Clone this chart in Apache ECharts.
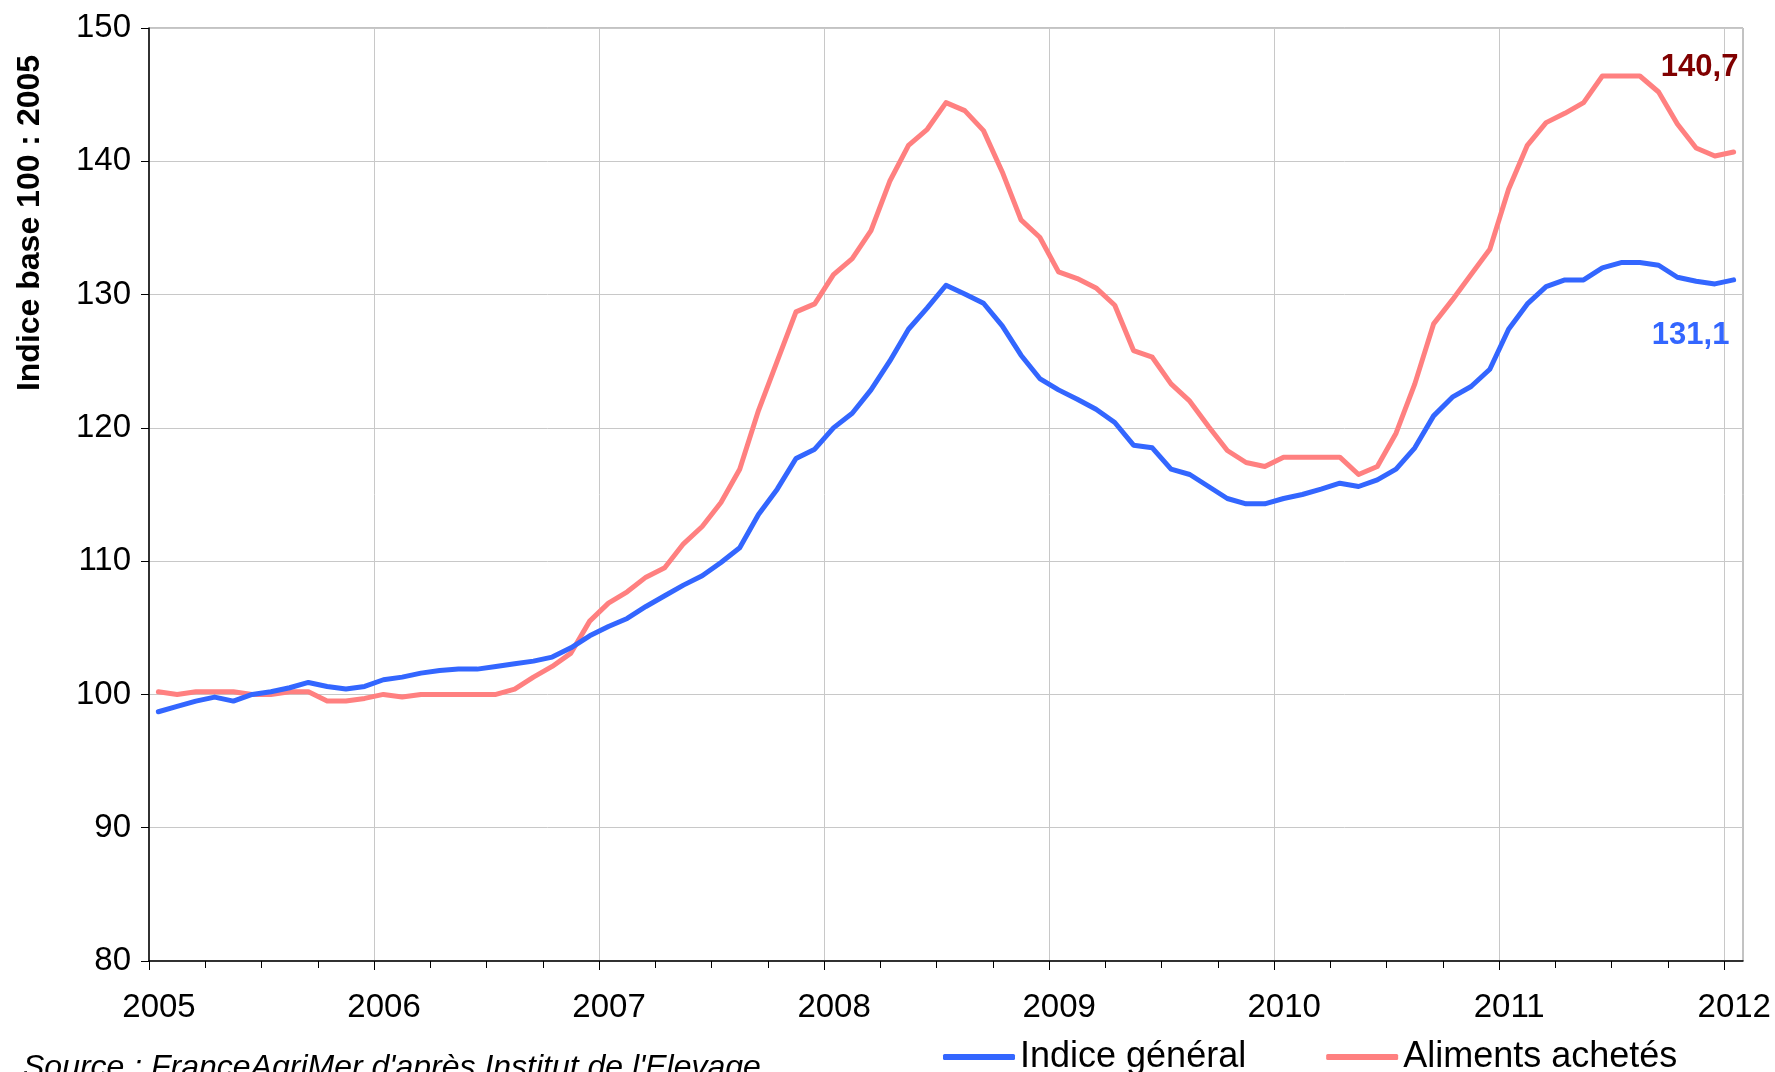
<!DOCTYPE html>
<html>
<head>
<meta charset="utf-8">
<script src="https://cdn.jsdelivr.net/npm/echarts@6/dist/echarts.min.js"></script>
<style>
html,body{margin:0;padding:0;background:#fff;}
#chart{width:1775px;height:1072px;}
</style>
</head>
<body>
<div id="chart"></div>
<script>
// Monthly index values, January 2005 .. January 2012 (85 months)
const startYear = 2005;
const yearTicks = ['2005','2006','2007','2008','2009','2010','2011','2012'];
const seriesNames = ['Indice général', 'Aliments achetés'];

const indiceGeneral = [
  98.7, 99.1, 99.5, 99.8, 99.5, 100.0, 100.2, 100.5, 100.9, 100.6, 100.4, 100.6,
  101.1, 101.3, 101.6, 101.8, 101.9, 101.9, 102.1, 102.3, 102.5, 102.8, 103.5, 104.4,
  105.1, 105.7, 106.6, 107.4, 108.2, 108.9, 109.9, 111.0, 113.5, 115.4, 117.7, 118.4,
  120.0, 121.1, 122.85, 125.0, 127.4, 129.0, 130.7, 130.05, 129.35, 127.65, 125.45, 123.7,
  122.85, 122.15, 121.4, 120.4, 118.7, 118.5, 116.9, 116.5, 115.6, 114.7, 114.3, 114.3,
  114.7, 115.0, 115.4, 115.85, 115.6, 116.1, 116.9, 118.5, 120.9, 122.3, 123.1, 124.4,
  127.4, 129.3, 130.6, 131.1, 131.1, 132.0, 132.4, 132.4, 132.2, 131.3, 131.0, 130.8,
  131.1
];

const alimentsAchetes = [
  100.2, 100.0, 100.2, 100.2, 100.2, 100.0, 100.0, 100.2, 100.2, 99.5, 99.5, 99.7,
  100.0, 99.8, 100.0, 100.0, 100.0, 100.0, 100.0, 100.4, 101.3, 102.1, 103.1, 105.5,
  106.85, 107.7, 108.8, 109.5, 111.3, 112.6, 114.4, 116.9, 121.3, 125.0, 128.7, 129.3,
  131.5, 132.7, 134.8, 138.5, 141.2, 142.4, 144.4, 143.8, 142.3, 139.2, 135.6, 134.3,
  131.7, 131.2, 130.5, 129.2, 125.8, 125.3, 123.3, 122.0, 120.1, 118.3, 117.4, 117.1,
  117.8, 117.8, 117.8, 117.8, 116.5, 117.1, 119.6, 123.3, 127.8, 129.6, 131.5, 133.4,
  137.9, 141.2, 142.9, 143.6, 144.4, 146.4, 146.4, 146.4, 145.2, 142.8, 141.0, 140.4,
  140.7
];

const FONT = '"Liberation Sans", Arial, sans-serif';
const nMonths = indiceGeneral.length;
// each monthly point sits in the middle of its month slot
const toPoints = arr => arr.map((v, i) => [i + 0.5, v]);
const yearValues = yearTicks.map((y, k) => k * 12);
const quarterValues = [];
for (let m = 0; m <= (yearTicks.length - 1) * 12; m += 3) if (m % 12 !== 0) quarterValues.push(m);
const fmt = v => v.toFixed(1).replace('.', ',');

const chart = echarts.init(document.getElementById('chart'), null, {renderer: 'canvas'});
chart.setOption({
  animation: false,
  backgroundColor: '#ffffff',
  grid: {
    left: 149, top: 28, width: 1594, height: 933,
    show: true, borderColor: '#868686', borderWidth: 1, backgroundColor: 'transparent',
    containLabel: false
  },
  xAxis: [
    {
      type: 'value', position: 'bottom',
      min: 0, max: nMonths, interval: 12,
      axisLine: {show: true, onZero: false, lineStyle: {color: '#000', width: 1.5}},
      axisTick: {show: true, inside: false, length: 9, customValues: yearValues,
                 lineStyle: {color: '#000', width: 1}},
      axisLabel: {show: true, customValues: yearValues, margin: 30, padding: [0, 0, 0, 20],
                  formatter: v => yearTicks[Math.round(v / 12)],
                  fontFamily: FONT, fontSize: 33, color: '#000'},
      splitLine: {show: true, lineStyle: {color: '#c8c8c8', width: 1}}
    },
    {
      type: 'value', position: 'bottom',
      min: 0, max: nMonths, interval: 12,
      axisLine: {show: false, onZero: false},
      axisTick: {show: true, inside: false, length: 7, customValues: quarterValues,
                 lineStyle: {color: '#000', width: 1}},
      axisLabel: {show: false},
      splitLine: {show: false}
    }
  ],
  yAxis: {
    type: 'value',
    min: 80, max: 150, interval: 10,
    axisLine: {show: true, onZero: false, lineStyle: {color: '#000', width: 1.5}},
    axisTick: {show: true, inside: false, length: 8, lineStyle: {color: '#000'}},
    axisLabel: {margin: 18, fontFamily: FONT, fontSize: 33, color: '#000'},
    splitLine: {show: true, lineStyle: {color: '#c8c8c8', width: 1}}
  },
  legend: {
    show: true,
    left: 938, top: 1034,
    itemWidth: 72, itemHeight: 6, itemGap: 80,
    icon: 'roundRect',
    textStyle: {fontFamily: FONT, fontSize: 36, color: '#000'},
    data: seriesNames
  },
  series: [
    {
      name: seriesNames[0], type: 'line', xAxisIndex: 0, data: toPoints(indiceGeneral),
      symbol: 'none', showSymbol: false, smooth: false,
      lineStyle: {color: '#3366FF', width: 5, cap: 'round', join: 'round'},
      itemStyle: {color: '#3366FF'},
      z: 3,
      endLabel: {show: true, formatter: p => fmt(p.value[1]), align: 'center',
                 verticalAlign: 'middle', distance: 0, offset: [-43, 56],
                 fontFamily: FONT, fontSize: 31, fontWeight: 'bold', color: '#3366FF'}
    },
    {
      name: seriesNames[1], type: 'line', xAxisIndex: 0, data: toPoints(alimentsAchetes),
      symbol: 'none', showSymbol: false, smooth: false,
      lineStyle: {color: '#FF8080', width: 5, cap: 'round', join: 'round'},
      itemStyle: {color: '#FF8080'},
      z: 2,
      endLabel: {show: true, formatter: p => fmt(p.value[1]), align: 'center',
                 verticalAlign: 'middle', distance: 0, offset: [-34, -85],
                 fontFamily: FONT, fontSize: 31, fontWeight: 'bold', color: '#800000'}
    }
  ],
  graphic: [
    {
      type: 'text', x: 30, y: 223, rotation: Math.PI / 2,
      style: {text: 'Indice base 100 : 2005', fontFamily: FONT, fontSize: 32,
              fontWeight: 'bold', fill: '#000', align: 'center', verticalAlign: 'middle'}
    },
    {
      type: 'text', x: 23, y: 1068,
      style: {text: "Source : FranceAgriMer d'après Institut de l'Elevage", fontFamily: FONT,
              fontSize: 32, fontStyle: 'italic', fill: '#000', align: 'left', verticalAlign: 'middle'}
    }
  ]
});
</script>
</body>
</html>
